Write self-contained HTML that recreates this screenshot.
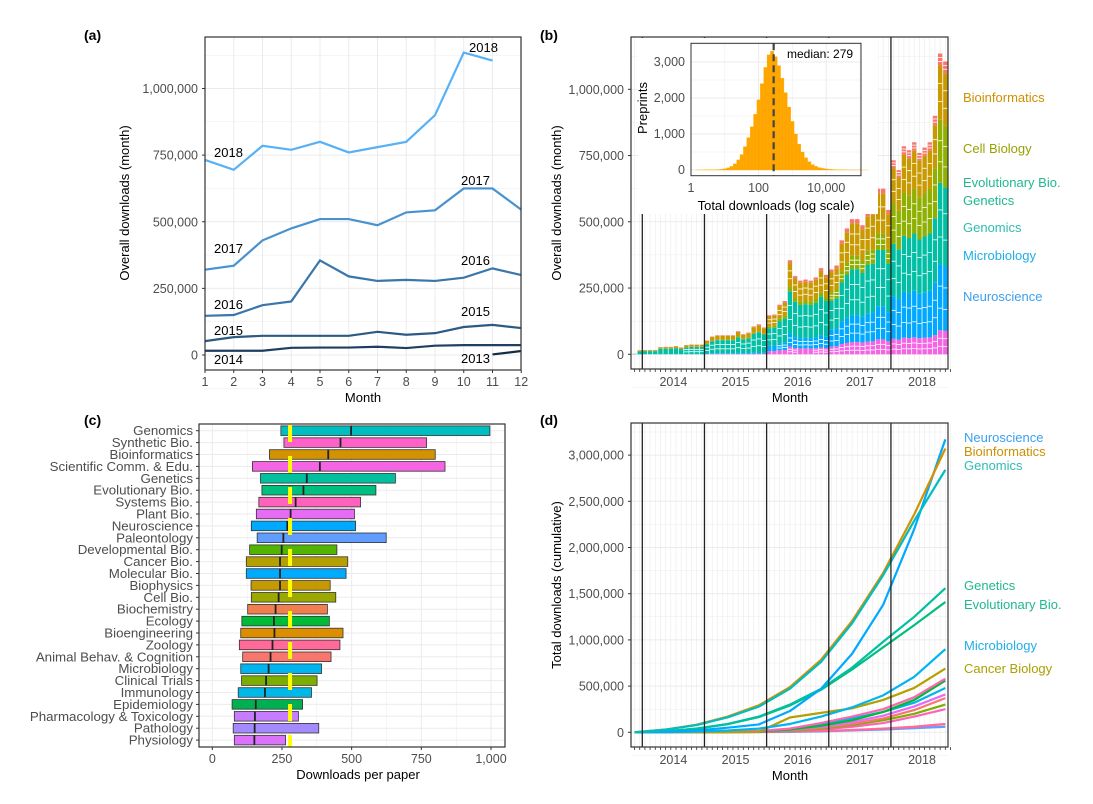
<!DOCTYPE html>
<html><head><meta charset="utf-8"><style>
body{margin:0;background:#fff;}
svg{font-family:"Liberation Sans",sans-serif;display:block;}
.tk{fill:#4d4d4d;font-size:12.5px;}
.tt{fill:#000;font-size:13px;}
.pl{font-weight:bold;font-size:14px;fill:#000;}
</style></head><body>
<svg id="fig" width="1093" height="804" viewBox="0 0 1093 804">
<rect width="1093" height="804" fill="#fff"/>
<g id="gA"></g>
<g id="gB"></g>
<g id="gC"></g>
<g id="gD"></g>
<text class="pl" x="84" y="40">(a)</text>
<text class="pl" x="540" y="40">(b)</text>
<text class="pl" x="84" y="425">(c)</text>
<text class="pl" x="540" y="425">(d)</text>
<text class="tt" x="363" y="402" text-anchor="middle">Month</text>
<text class="tt" transform="translate(129,203) rotate(-90)" text-anchor="middle">Overall downloads (month)</text>
<text class="tt" x="790" y="402" text-anchor="middle">Month</text>
<text class="tt" transform="translate(561,203) rotate(-90)" text-anchor="middle">Overall downloads (month)</text>
<text class="tt" x="358" y="779" text-anchor="middle">Downloads per paper</text>
<text class="tt" x="790" y="780" text-anchor="middle">Month</text>
<text class="tt" transform="translate(561,585) rotate(-90)" text-anchor="middle">Total downloads (cumulative)</text>
</svg>
<script>
// ---------- DATA ----------
// panel a (thousands)
const monthsA=[1,2,3,4,5,6,7,8,9,10,11,12];
const y2013=[null,null,null,null,null,null,null,null,null,null,2,15];
const y2014=[16,16,16,27,28,28,31,26,35,37,37,37];
const y2015=[52,67,72,72,72,72,87,76,82,105,113,101];
const y2016=[147,150,187,201,355,295,278,282,278,290,325,300];
const y2017=[320,335,430,475,510,510,487,535,543,625,625,545];
const y2018=[732,695,785,770,800,760,780,800,900,1135,1105,null];
const yTicksA=[0,250,500,750,1000];
const yTickLabelsA=["0","250,000","500,000","750,000","1,000,000"];
// panel b shares per year (2013..2018): pink, blue, teal, olive, gold, red
const yearsB=[2013,2014,2015,2016,2017,2018];
const sharePink=[0,0,0.02,0.08,0.09,0.08];
const shareBlue=[0,0.02,0.04,0.14,0.2,0.22];
const shareTeal=[0.75,0.73,0.68,0.45,0.34,0.27];
const shareOlive=[0,0.02,0.03,0.05,0.1,0.21];
const shareGold=[0.2,0.2,0.2,0.25,0.24,0.18];
const shareRed=[0.05,0.03,0.03,0.03,0.03,0.04];
const histStart=0.15;
const histCounts=[2,3,4,5,6,8,12,20,35,60,100,170,280,430,650,900,1200,1550,1950,2400,2850,3200,3300,3150,2900,2550,2150,1750,1350,1000,720,500,340,230,150,100,65,45,30,20,14,10,7,5,4,3,3,2,2,1,1];
const medianDl=279;
// panel c
const catsC=["Genomics","Synthetic Bio.","Bioinformatics","Scientific Comm. & Edu.","Genetics","Evolutionary Bio.","Systems Bio.","Plant Bio.","Neuroscience","Paleontology","Developmental Bio.","Cancer Bio.","Molecular Bio.","Biophysics","Cell Bio.","Biochemistry","Ecology","Bioengineering","Zoology","Animal Behav. & Cognition","Microbiology","Clinical Trials","Immunology","Epidemiology","Pharmacology & Toxicology","Pathology","Physiology"];
const q1C=[246,257,205,144,173,178,167,158,140,161,134,122,122,139,140,127,106,102,97,109,102,105,93,71,79,75,79];
const medC=[498,460,416,386,339,327,299,281,269,255,249,243,243,243,238,227,221,223,216,209,202,193,189,156,153,152,151];
const q3C=[996,769,800,835,657,587,532,510,514,624,447,486,480,423,443,413,420,469,458,426,392,376,356,324,309,382,263];
const colC=["#00BDC0","#FF61C9","#D39200","#F564E3","#00C0A0","#00BE7D","#FF62BC","#E76BF3","#00A9FF","#619CFF","#53B400","#B4A000","#00ABFD","#C49A00","#9AA800","#F07F4F","#00BA38","#DB8E00","#FF6A98","#F8766D","#00B4EF","#7CAE00","#00B8E7","#00B050","#C77CFF","#A58AFF","#DB72FB"];
const xTicksC=[0,250,500,750,1000];
const xTickLabelsC=["0","250","500","750","1,000"];
// panel d (thousands, every 6 months from Nov 2013)
const tD=[0,6,12,18,24,30,36,42,48,54,60];
const dNeuro=[0,5,20,50,85,230,470,850,1380,2200,3170];
const dBioinf=[0,30,82,170,292,490,785,1205,1725,2360,3070];
const dGenomics=[0,29,78,162,278,472,762,1180,1700,2290,2840];
const dGenetics=[0,10,40,90,170,300,470,700,980,1250,1560];
const dEvol=[0,10,40,88,165,290,460,680,920,1160,1410];
const dMicro=[0,2,8,20,40,90,170,270,400,600,900];
const dCancer=[0,0,0,2,5,160,210,260,350,480,690];
const dO1=[0,0,2,5,15,40,100,170,250,380,580];
const dO2=[0,0,2,5,10,30,70,130,220,350,560];
const dO3=[0,0,2,5,10,30,80,150,220,320,480];
const dO4=[0,0,2,5,10,25,60,110,180,280,410];
const dO5=[0,0,1,3,8,20,50,90,150,240,370];
const dO6=[0,0,1,3,6,15,40,80,130,200,300];
const dO7=[0,0,1,2,5,12,30,60,100,170,250];
const dO8=[0,0,0,1,2,5,10,20,30,45,60];
const dO9=[0,0,1,2,4,8,15,25,40,60,90];
const yTicksD=[0,500,1000,1500,2000,2500,3000];
const yTickLabelsD=["0","500,000","1,000,000","1,500,000","2,000,000","2,500,000","3,000,000"];

// ---------- HELPERS ----------
const NS="http://www.w3.org/2000/svg";
function mk(par,tag,at,txt){const e=document.createElementNS(NS,tag);for(const k in at)e.setAttribute(k,at[k]);if(txt!==undefined)e.textContent=txt;par.appendChild(e);return e;}
const gA=document.getElementById('gA'),gB=document.getElementById('gB'),gC=document.getElementById('gC'),gD=document.getElementById('gD');
let el;

// ---------- PANEL A ----------
const xA=m=>205+(m-1)*28.75, yA=v=>355-v*0.2665;
for(let v=-125;v<=1125;v+=125){el=mk(gA,'line',{x1:205,x2:521,y1:yA(v),y2:yA(v),stroke:'#ebebeb','stroke-width':v%250===0?1:0.5});

}
monthsA.forEach(m=>{el=mk(gA,'line',{x1:xA(m),x2:xA(m),y1:37,y2:370,stroke:'#ebebeb','stroke-width':1});


el=mk(gA,'text',{x:xA(m),y:386,'text-anchor':'middle',class:'tk'},String(m));


el=mk(gA,'line',{x1:xA(m),x2:xA(m),y1:370,y2:373,stroke:'#333'});

});
yTicksA.forEach((v,i)=>{el=mk(gA,'text',{x:198,y:yA(v)+4.5,'text-anchor':'end',class:'tk'},yTickLabelsA[i]);


el=mk(gA,'line',{x1:202,x2:205,y1:yA(v),y2:yA(v),stroke:'#333'});

});
const seriesA=[[y2013,'#132B43','2013'],[y2014,'#1F3F61','2014'],[y2015,'#2B5A84','2015'],[y2016,'#3A76A9','2016'],[y2017,'#4792CF','2017'],[y2018,'#56B1F7','2018']];
seriesA.forEach(s=>{let d='';s[0].forEach((v,i)=>{if(v===null)return;d+=(d?'L':'M')+xA(monthsA[i])+','+yA(v);});
el=mk(gA,'path',{d:d,fill:'none',stroke:s[1],'stroke-width':2.2});

});
const labA=[["2018",214,157],["2017",214,253],["2016",214,309],["2015",214,335],["2014",214,364],["2018",469,52],["2017",461,185],["2016",461,265],["2015",461,316],["2013",461,363]];
labA.forEach(l=>{el=mk(gA,'text',{x:l[1],y:l[2],'font-size':'13px',fill:'#000'},l[0]);

});
el=mk(gA,'rect',{x:205,y:37,width:316,height:333,fill:'none',stroke:'#333','stroke-width':1.2});



// ---------- shared month axis (b,d) ----------
const xB=m=>642.3+m*5.18;
function monthGrid(g,top,bot){
 for(let m=-2;m<=59;m++){el=mk(g,'line',{x1:xB(m)+2.6,x2:xB(m)+2.6,y1:top,y2:bot,stroke:'#ebebeb','stroke-width':0.6});
 
 
 el=mk(g,'line',{x1:xB(m)+2.6,x2:xB(m)+2.6,y1:bot,y2:bot+3,stroke:'#333','stroke-width':0.8});
 
 }
 [2014,2015,2016,2017,2018].forEach((yr,i)=>{el=mk(g,'text',{x:xB(i*12+6),y:bot+17,'text-anchor':'middle',class:'tk'},String(yr));
 
 });
}
function yearLines(g,top,bot){[0,12,24,36,48].forEach(m=>{el=mk(g,'line',{x1:xB(m),x2:xB(m),y1:top,y2:bot,stroke:'#222','stroke-width':1.3});

});}

// ---------- PANEL B ----------
const yB=v=>354.3-v*0.265;
for(let v=-125;v<=1125;v+=125){el=mk(gB,'line',{x1:631,x2:948,y1:yB(v),y2:yB(v),stroke:'#ebebeb','stroke-width':v%250===0?1:0.5});

}
monthGrid(gB,37,369);
yTicksA.forEach((v,i)=>{el=mk(gB,'text',{x:624,y:yB(v)+4.5,'text-anchor':'end',class:'tk'},yTickLabelsA[i]);


el=mk(gB,'line',{x1:628,x2:631,y1:yB(v),y2:yB(v),stroke:'#333'});

});
const totalsB=[], yearOfB=[];
[[y2013,2013],[y2014,2014],[y2015,2015],[y2016,2016],[y2017,2017],[y2018,2018]].forEach(p=>p[0].forEach(v=>{if(v!==null){totalsB.push(v);yearOfB.push(p[1]);}}));
const catB=[[sharePink,'#F564E3','pink'],[shareBlue,'#00A9FF','neuroscience'],[shareTeal,'#00BFA5','genomics-genetics'],[shareOlive,'#8FB000','cell-biology'],[shareGold,'#C99A00','bioinformatics'],[shareRed,'#F8766D','other']];
totalsB.forEach((tot,i)=>{const m=i-2, yi=yearsB.indexOf(yearOfB[i]);let base=0;
 catB.forEach(c=>{const h=tot*c[0][yi];if(h<=0)return;
  el=mk(gB,'rect',{x:xB(m)+0.4,y:yB(base+h),width:4.4,height:h*0.265,fill:c[1]});
  
  
  for(let k=1;k<3;k++){const yy=yB(base+h*k/3);if(h*0.265>6){el=mk(gB,'line',{x1:xB(m)+0.4,x2:xB(m)+4.8,y1:yy,y2:yy,stroke:'#fff','stroke-width':0.8});
  
  }}
  base+=h;});});
yearLines(gB,37,369);
const labB=[["Bioinformatics","#CD9000",102],["Cell Biology","#9AA000",153],["Evolutionary Bio.","#20B890",187],["Genetics","#20B890",205],["Genomics","#30BCB0",232],["Microbiology","#20AEE8",260],["Neuroscience","#3AA0F0",301]];
labB.forEach(l=>{el=mk(gB,'text',{x:963,y:l[2],fill:l[1],'font-size':'13px'},l[0]);

});
// inset
el=mk(gB,'rect',{x:638,y:38,width:240,height:176,fill:'#fff'});


const xI=l=>691+l*33.8, yI=c=>170-c*0.036;
for(let c=-500;c<=3500;c+=500){if(yI(c)<43.3||yI(c)>175.7)continue;el=mk(gB,'line',{x1:691,x2:861,y1:yI(c),y2:yI(c),stroke:'#ebebeb','stroke-width':c%1000===0?1:0.5});

}
for(let l=0;l<=5;l++){el=mk(gB,'line',{x1:xI(l),x2:xI(l),y1:43.3,y2:175.7,stroke:'#ebebeb','stroke-width':l%2===0?1:0.5});

}
histCounts.forEach((c,i)=>{const l0=histStart+i*0.1;el=mk(gB,'rect',{x:xI(l0),y:yI(c),width:3.38,height:c*0.036,fill:'#FFA500',stroke:'#FFB000','stroke-width':0.3});

});
el=mk(gB,'line',{x1:xI(Math.log10(medianDl)),x2:xI(Math.log10(medianDl)),y1:43.3,y2:175.7,stroke:'#444','stroke-width':2.2,'stroke-dasharray':'7 4'});


el=mk(gB,'text',{x:787,y:58,'font-size':'12px',fill:'#000'},'median: '+medianDl);


el=mk(gB,'rect',{x:691,y:43.3,width:170,height:132.4,fill:'none',stroke:'#333','stroke-width':1});


[0,1000,2000,3000].forEach(c=>{el=mk(gB,'text',{x:685,y:yI(c)+4,'text-anchor':'end',class:'tk'},c===0?'0':(c/1000)+',000');

});
[[0,'1'],[2,'100'],[4,'10,000']].forEach(t=>{el=mk(gB,'text',{x:xI(t[0]),y:192,'text-anchor':'middle',class:'tk'},t[1]);

});
el=mk(gB,'text',{x:776,y:210,'text-anchor':'middle',class:'tt'},'Total downloads (log scale)');


el=mk(gB,'text',{transform:'translate(647,108) rotate(-90)','text-anchor':'middle',class:'tt'},'Preprints');


el=mk(gB,'rect',{x:631,y:37,width:317,height:332,fill:'none',stroke:'#333','stroke-width':1.2});



// ---------- PANEL C ----------
const xC=v=>212.3+v*0.2787, rowY=i=>430.7+i*11.9;
for(let v=-125;v<=1125;v+=125){const x=xC(v);if(x<199||x>505)continue;el=mk(gC,'line',{x1:x,x2:x,y1:424,y2:747,stroke:'#ebebeb','stroke-width':v%250===0?1:0.5});

}
catsC.forEach((c,i)=>{el=mk(gC,'line',{x1:199,x2:505,y1:rowY(i),y2:rowY(i),stroke:'#ebebeb','stroke-width':1});

});
catsC.forEach((c,i)=>{const y=rowY(i);
 el=mk(gC,'rect',{x:xC(q1C[i]),y:y-4.8,width:xC(q3C[i])-xC(q1C[i]),height:9.6,fill:colC[i],stroke:'#333','stroke-width':0.8});
 
 
 el=mk(gC,'line',{x1:xC(medC[i]),x2:xC(medC[i]),y1:y-4.8,y2:y+4.8,stroke:'#222','stroke-width':1.8});
 
 
 el=mk(gC,'text',{x:193,y:y+4.5,'text-anchor':'end',fill:'#4d4d4d','font-size':'13.3px'},c);
 
 
 el=mk(gC,'line',{x1:196,x2:199,y1:y,y2:y,stroke:'#333'});
 
 });
el=mk(gC,'line',{x1:xC(medianDl),x2:xC(medianDl),y1:425,y2:747,stroke:'#FFFF00','stroke-width':4,'stroke-dasharray':'17 14'});


xTicksC.forEach((v,i)=>{el=mk(gC,'text',{x:xC(v),y:763,'text-anchor':'middle',class:'tk'},xTickLabelsC[i]);


el=mk(gC,'line',{x1:xC(v),x2:xC(v),y1:747,y2:750,stroke:'#333'});

});
el=mk(gC,'rect',{x:199,y:424,width:306,height:323,fill:'none',stroke:'#333','stroke-width':1.2});



// ---------- PANEL D ----------
const yD=v=>732.3-v*0.0924;
for(let v=-250;v<=3250;v+=250){el=mk(gD,'line',{x1:631,x2:948,y1:yD(v),y2:yD(v),stroke:'#ebebeb','stroke-width':v%500===0?1:0.5});

}
monthGrid(gD,423,747);
yTicksD.forEach((v,i)=>{el=mk(gD,'text',{x:624,y:yD(v)+4.5,'text-anchor':'end',class:'tk'},yTickLabelsD[i]);


el=mk(gD,'line',{x1:628,x2:631,y1:yD(v),y2:yD(v),stroke:'#333'});

});
const seriesD=[[dO8,'#619CFF','pathology'],[dO9,'#FF6A98','zoology'],[dO7,'#FF62BC','systems-bio'],[dO6,'#7CAE00','clinical'],[dO5,'#F8766D','animal-behav'],[dO4,'#E76BF3','plant-bio'],[dO3,'#00B4EF','molecular-bio'],[dO2,'#00BA38','ecology'],[dO1,'#FF64B0','synthetic-bio'],[dCancer,'#B4A000','cancer-biology'],[dMicro,'#00B4EF','microbiology'],[dEvol,'#00BE7D','evolutionary-bio'],[dGenetics,'#00C0A0','genetics'],[dNeuro,'#00A9FF','neuroscience'],[dBioinf,'#D39200','bioinformatics'],[dGenomics,'#00BDC0','genomics']];
seriesD.forEach(s=>{let d='';s[0].forEach((v,i)=>{d+=(i?'L':'M')+(xB(tD[i]-2)+2.6)+','+yD(v);});
el=mk(gD,'path',{d:d,fill:'none',stroke:s[1],'stroke-width':2.2,'stroke-linejoin':'round'});

});
yearLines(gD,423,747);
const labD=[["Neuroscience","#3AA0F0",442],["Bioinformatics","#CD9000",456],["Genomics","#30BCB0",470],["Genetics","#20B890",590],["Evolutionary Bio.","#20B890",609],["Microbiology","#20AEE8",650],["Cancer Biology","#ABA000",673]];
labD.forEach(l=>{el=mk(gD,'text',{x:964,y:l[2],fill:l[1],'font-size':'13px'},l[0]);

});
el=mk(gD,'rect',{x:631,y:423,width:317,height:324,fill:'none',stroke:'#333','stroke-width':1.2});


</script>
</body></html>
